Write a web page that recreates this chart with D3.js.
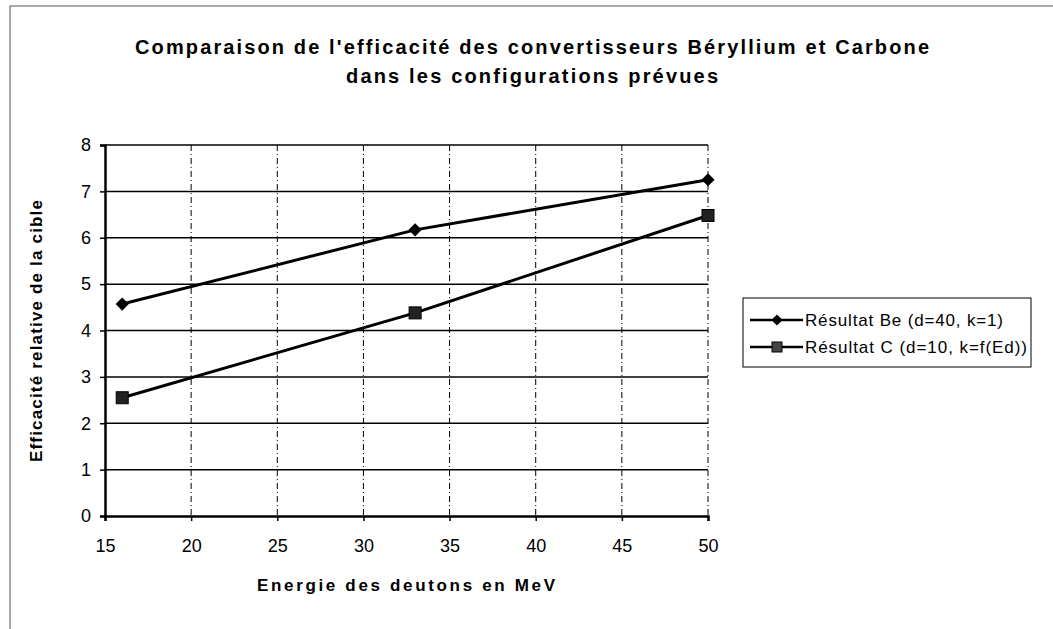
<!DOCTYPE html>
<html>
<head>
<meta charset="utf-8">
<script src="https://cdn.jsdelivr.net/npm/d3@7"></script>
<style>
  body { margin: 0; background: #fff; }
  text { font-family: "Liberation Sans", Arial, sans-serif; fill: #000; }
</style>
</head>
<body>
<svg id="chart" width="1053" height="629"></svg>
<script>
// data
var energies = [16, 33, 50];
var beValues = [4.57, 6.17, 7.25];
var cValues = [2.55, 4.38, 6.48];
var xTicks = [15, 20, 25, 30, 35, 40, 45, 50];
var yTicks = [0, 1, 2, 3, 4, 5, 6, 7, 8];
var seriesNames = ["Résultat Be (d=40, k=1)", "Résultat C (d=10, k=f(Ed))"];

var svg = d3.select("#chart");

// outer frame
svg.append("rect")
  .attr("x", 10).attr("y", 6).attr("width", 1060).attr("height", 640)
  .attr("fill", "none").attr("stroke", "#555").attr("stroke-width", 1);

// plot box
var pLeft = 105, pRight = 708, pTop = 145, pBottom = 516;
var x = d3.scaleLinear().domain([15, 50]).range([pLeft, pRight]);
var y = d3.scaleLinear().domain([0, 8]).range([pBottom, pTop]);

// title (scan text is wide, so stretch spacing to match)
svg.append("text").attr("x", 532).attr("y", 54).attr("text-anchor", "middle")
  .attr("textLength", 794).attr("lengthAdjust", "spacing")
  .style("font-size", "20px").style("font-weight", "bold")
  .text("Comparaison de l'efficacité des convertisseurs Béryllium et Carbone");
svg.append("text").attr("x", 532).attr("y", 83).attr("text-anchor", "middle")
  .attr("textLength", 372).attr("lengthAdjust", "spacing")
  .style("font-size", "20px").style("font-weight", "bold")
  .text("dans les configurations prévues");

// horizontal grid (solid)
svg.append("g").selectAll("line").data(yTicks.slice(1)).join("line")
  .attr("x1", pLeft).attr("x2", pRight)
  .attr("y1", d => y(d)).attr("y2", d => y(d))
  .attr("stroke", "#000").attr("stroke-width", 1.5);

// vertical grid (dashed)
svg.append("g").selectAll("line").data(xTicks.slice(1)).join("line")
  .attr("x1", d => x(d)).attr("x2", d => x(d))
  .attr("y1", pTop).attr("y2", pBottom)
  .attr("stroke", "#000").attr("stroke-width", 1)
  .attr("stroke-dasharray", "6,3,1,3");

// axes
var xAxis = d3.axisBottom(x).tickValues(xTicks).tickSize(5).tickPadding(18);
var yAxis = d3.axisLeft(y).tickValues(yTicks).tickSize(5).tickPadding(9);

var gx = svg.append("g").attr("transform", "translate(0," + pBottom + ")").call(xAxis);
var gy = svg.append("g").attr("transform", "translate(" + pLeft + ",0)").call(yAxis);
[gx, gy].forEach(function(g) {
  g.select(".domain").attr("stroke", "#000").attr("stroke-width", 2.5);
  g.selectAll(".tick line").attr("stroke", "#000").attr("stroke-width", 1.5);
  g.selectAll(".tick text").style("font-size", "18px").attr("fill", "#000")
    .style("font-family", "'Liberation Sans', Arial, sans-serif");
});

// axis titles
svg.append("text").attr("x", 406).attr("y", 591).attr("text-anchor", "middle")
  .attr("textLength", 298).attr("lengthAdjust", "spacing")
  .style("font-size", "17px").style("font-weight", "bold")
  .text("Energie des deutons en MeV");
svg.append("text").attr("transform", "translate(42,331) rotate(-90)")
  .attr("text-anchor", "middle")
  .attr("textLength", 262).attr("lengthAdjust", "spacing")
  .style("font-size", "17px").style("font-weight", "bold")
  .text("Efficacité relative de la cible");

// series
var line = d3.line().x(d => x(d[0])).y(d => y(d[1]));
var beData = energies.map((e, i) => [e, beValues[i]]);
var cData = energies.map((e, i) => [e, cValues[i]]);

[beData, cData].forEach(function(data) {
  svg.append("path").datum(data).attr("d", line)
    .attr("fill", "none").attr("stroke", "#000").attr("stroke-width", 3);
});

var diamond = d3.symbol().type(d3.symbolDiamond2).size(110);
svg.append("g").selectAll("path").data(beData).join("path")
  .attr("transform", d => "translate(" + x(d[0]) + "," + y(d[1]) + ")")
  .attr("d", diamond).attr("fill", "#000");

svg.append("g").selectAll("rect").data(cData).join("rect")
  .attr("x", d => x(d[0]) - 6).attr("y", d => y(d[1]) - 6)
  .attr("width", 12).attr("height", 12)
  .attr("fill", "#222").attr("stroke", "#000").attr("stroke-width", 1);

// legend
var legendWidths = [198, 222];
var lg = svg.append("g").attr("transform", "translate(743,298)");
lg.append("rect").attr("width", 288).attr("height", 69)
  .attr("fill", "#fff").attr("stroke", "#000").attr("stroke-width", 1);
seriesNames.forEach(function(name, i) {
  var ly = 22 + i * 27;
  lg.append("line").attr("x1", 7).attr("x2", 60).attr("y1", ly).attr("y2", ly)
    .attr("stroke", "#000").attr("stroke-width", 2.5);
  if (i === 0) {
    lg.append("path").attr("transform", "translate(34," + ly + ")")
      .attr("d", d3.symbol().type(d3.symbolDiamond2).size(80)).attr("fill", "#000");
  } else {
    lg.append("rect").attr("x", 29).attr("y", ly - 5).attr("width", 10).attr("height", 10)
      .attr("fill", "#444").attr("stroke", "#000");
  }
  lg.append("text").attr("x", 62).attr("y", ly + 6)
    .attr("textLength", legendWidths[i]).attr("lengthAdjust", "spacing")
    .style("font-size", "17px").text(name);
});
</script>
</body>
</html>
